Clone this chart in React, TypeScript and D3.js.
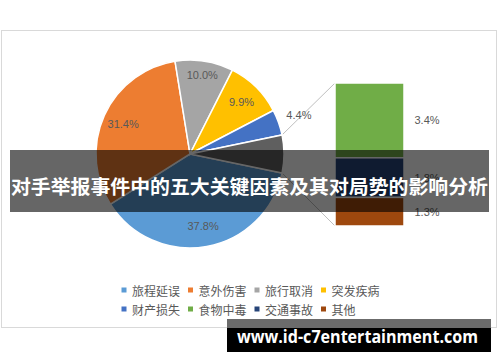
import React from "react";
import * as d3 from "d3";

const pieCategories = ["旅程延误", "意外伤害", "旅行取消", "突发疾病", "财产损失"];
const pieValues = [37.8, 31.4, 10.0, 9.9, 4.4];
const barCategories = ["食物中毒", "交通事故", "其他"];
const barValues = [3.4, 1.8, 1.3];
const legendOrder = ["旅程延误", "意外伤害", "旅行取消", "突发疾病", "财产损失", "食物中毒", "交通事故", "其他"];
const colors: Record<string, string> = {
  旅程延误: "#5B9BD5",
  意外伤害: "#ED7D31",
  旅行取消: "#A5A5A5",
  突发疾病: "#FFC000",
  财产损失: "#4472C4",
  食物中毒: "#70AD47",
  交通事故: "#264478",
  其他: "#9E480E",
};
const otherColor = "#5F5F5F";
const title = "对手举报事件中的五大关键因素及其对局势的影响分析";
const watermark = "www.id-c7entertainment.com";

export default function App() {
  const W = 500, H = 362;
  const cx = 190, cy = 154, R = 94;
  const otherSum = d3.sum(barValues);
  const values = [...pieValues, otherSum];
  const total = d3.sum(values);
  const otherAngle = (otherSum / total) * 2 * Math.PI;
  const start = Math.PI / 2 + otherAngle / 2;
  const pie = d3.pie<number>().sort(null).value((d) => d).startAngle(start).endAngle(start + 2 * Math.PI);
  const arcs = pie(values);
  const arcGen = d3.arc<d3.PieArcDatum<number>>().innerRadius(0).outerRadius(R);

  const pt = (a: number, r: number): [number, number] => [cx + r * Math.sin(a), cy - r * Math.cos(a)];

  const barX = 335, barW = 69, barTop = 83, barBottom = 226;
  const y = d3.scaleLinear().domain([0, otherSum]).range([barTop, barBottom]);
  const cum = barValues.map((_, i) => d3.sum(barValues.slice(0, i)));

  const otherArc = arcs[arcs.length - 1];
  const pTop = pt(otherArc.startAngle, R);
  const pBot = pt(otherArc.endAngle, R);

  const legendX0 = 124, legendStep = 66.5, legendY = [290, 309];

  return (
    <svg width={W} height={H} style={{ position: "absolute", left: 0, top: 0 }} fontFamily="'Noto Sans CJK SC', 'Liberation Sans', sans-serif">
      <rect x={0} y={0} width={W} height={H} fill="#fff" />
      <rect x={1.5} y={30.5} width={495} height={297} fill="#fff" stroke="#D9D9D9" strokeWidth={1} />
      {/* connectors */}
      <line x1={pTop[0]} y1={pTop[1]} x2={barX} y2={barTop} stroke="#BFBFBF" strokeWidth={1} />
      <line x1={pBot[0]} y1={pBot[1]} x2={barX} y2={barBottom} stroke="#BFBFBF" strokeWidth={1} />
      {/* pie */}
      {arcs.map((a, i) => (
        <path
          key={i}
          d={arcGen(a) || ""}
          transform={`translate(${cx},${cy})`}
          fill={i < pieCategories.length ? colors[pieCategories[i]] : otherColor}
          stroke="#fff"
          strokeWidth={1.5}
        />
      ))}
      {arcs.slice(0, pieValues.length).map((a, i) => {
        const mid = (a.startAngle + a.endAngle) / 2;
        const r = a.value < 5 ? R * 1.23 : i === 2 ? R * 0.85 : R * 0.78;
        const [lx, ly] = pt(mid, r);
        return (
          <text key={i} x={lx} y={ly} textAnchor="middle" dominantBaseline="central" fontSize={11} fill="#595959" fontFamily="'Liberation Sans', sans-serif">
            {a.value.toFixed(1)}%
          </text>
        );
      })}
      {/* bar */}
      {barValues.map((v, i) => (
        <rect
          key={i}
          x={barX}
          y={y(cum[i])}
          width={barW}
          height={y(cum[i] + v) - y(cum[i])}
          fill={colors[barCategories[i]]}
          stroke="#fff"
          strokeWidth={1.5}
        />
      ))}
      {barValues.map((v, i) => (
        <text key={i} x={427} y={y(cum[i] + v / 2)} textAnchor="middle" dominantBaseline="central" fontSize={11} fill="#595959" fontFamily="'Liberation Sans', sans-serif">
          {v.toFixed(1)}%
        </text>
      ))}
      {/* legend */}
      {legendOrder.map((name, i) => {
        const col = i % 4, row = Math.floor(i / 4);
        const x = legendX0 + col * legendStep;
        const yy = legendY[row];
        return (
          <g key={name}>
            <rect x={x - 2.5} y={yy - 2.5} width={5} height={5} fill={colors[name]} />
            <text x={x + 8} y={yy} dominantBaseline="central" fontSize={12} fill="#595959">
              {name}
            </text>
          </g>
        );
      })}
      {/* title banner */}
      <rect x={10} y={150} width={479} height={62} fill="rgba(0,0,0,0.6)" />
      <text x={11} y={185} dominantBaseline="central" fontSize={19.5} fontWeight="bold" fill="#fff" textLength={477} lengthAdjust="spacingAndGlyphs">
        {title}
      </text>
      {/* watermark */}
      <rect x={227} y={319} width={264} height={9} fill="#6B6B6B" />
      <rect x={227} y={328} width={264} height={24} fill="#000" />
      <text x={237} y={343} fontSize={17} fontWeight="bold" fill="#fff" fontFamily="'Open Sans', sans-serif" textLength={241} lengthAdjust="spacingAndGlyphs">
        {watermark}
      </text>
    </svg>
  );
}
